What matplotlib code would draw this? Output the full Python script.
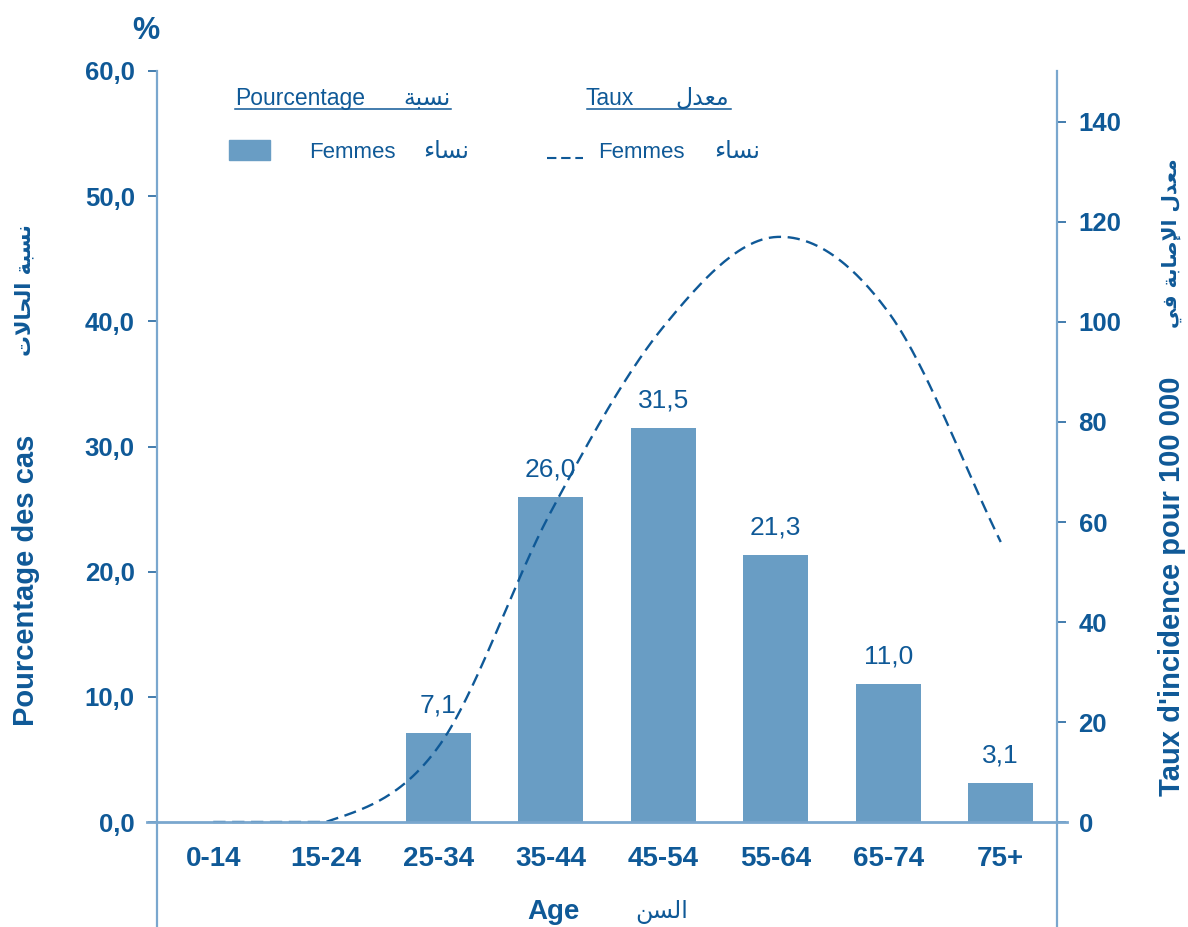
import numpy as np
import matplotlib
matplotlib.use('Agg')
import matplotlib.pyplot as plt
from matplotlib.patches import Rectangle
from matplotlib.lines import Line2D

plt.rcParams['font.family'] = ['Liberation Sans', 'DejaVu Sans']

# ---------------- data ----------------
categories = ['0-14', '15-24', '25-34', '35-44', '45-54', '55-64', '65-74', '75+']
pct_women = [0.0, 0.0, 7.1, 26.0, 31.5, 21.3, 11.0, 3.1]
rate_women = [0.0, 0.0, 15.0, 62.0, 99.0, 117.0, 102.0, 56.0]
pct_ticks = [0, 10, 20, 30, 40, 50, 60]
pct_tick_labels = ['0,0', '10,0', '20,0', '30,0', '40,0', '50,0', '60,0']
rate_ticks = [0, 20, 40, 60, 80, 100, 120, 140]
rate_tick_labels = ['0', '20', '40', '60', '80', '100', '120', '140']

# ---------------- colours ----------------
TXT = '#0F5997'
SPINE = '#7AA7CE'
BAR = '#699DC4'

# ---------------- simple Arabic shaping (presentation forms) ----------------
_FORMS = {
    'ا': ('\uFE8D', '\uFE8E', None, None),
    'إ': ('\uFE87', '\uFE88', None, None),
    'ب': ('\uFE8F', '\uFE90', '\uFE91', '\uFE92'),
    'ة': ('\uFE93', '\uFE94', None, None),
    'ت': ('\uFE95', '\uFE96', '\uFE97', '\uFE98'),
    'ح': ('\uFEA1', '\uFEA2', '\uFEA3', '\uFEA4'),
    'د': ('\uFEA9', '\uFEAA', None, None),
    'س': ('\uFEB1', '\uFEB2', '\uFEB3', '\uFEB4'),
    'ص': ('\uFEB9', '\uFEBA', '\uFEBB', '\uFEBC'),
    'ع': ('\uFEC9', '\uFECA', '\uFECB', '\uFECC'),
    'ف': ('\uFED1', '\uFED2', '\uFED3', '\uFED4'),
    'ل': ('\uFEDD', '\uFEDE', '\uFEDF', '\uFEE0'),
    'م': ('\uFEE1', '\uFEE2', '\uFEE3', '\uFEE4'),
    'ن': ('\uFEE5', '\uFEE6', '\uFEE7', '\uFEE8'),
    'ي': ('\uFEF1', '\uFEF2', '\uFEF3', '\uFEF4'),
    'ء': ('\uFE80', None, None, None),
}
_LAMALEF = {'ا': ('\uFEFB', '\uFEFC'), 'إ': ('\uFEF9', '\uFEFA')}


def shape_ar(text):
    units = []
    i = 0
    while i < len(text):
        c = text[i]
        if c == 'ل' and i + 1 < len(text) and text[i + 1] in _LAMALEF:
            units.append(('LA', text[i + 1]))
            i += 2
        else:
            units.append(('C', c))
            i += 1

    def joins_prev(u):
        if u[0] == 'LA':
            return True
        f = _FORMS.get(u[1])
        return f is not None and f[1] is not None

    def joins_next(u):
        if u[0] == 'LA':
            return False
        f = _FORMS.get(u[1])
        return f is not None and f[2] is not None

    out = []
    for k, u in enumerate(units):
        pc = k > 0 and joins_next(units[k - 1]) and joins_prev(u)
        nc = k + 1 < len(units) and joins_next(u) and joins_prev(units[k + 1])
        if u[0] == 'LA':
            out.append(_LAMALEF[u[1]][1 if pc else 0])
            continue
        f = _FORMS.get(u[1])
        if f is None:
            out.append(u[1])
            continue
        if pc and nc:
            g = f[3]
        elif pc:
            g = f[1]
        elif nc:
            g = f[2]
        else:
            g = f[0]
        out.append(g)
    return ''.join(reversed(out))


def smooth_curve(x, y, xs):
    """Catmull-Rom style cubic Hermite through the points, clipped at 0."""
    x = np.asarray(x, float)
    y = np.asarray(y, float)
    n = len(x)
    m = np.zeros(n)
    for k in range(1, n - 1):
        m[k] = (y[k + 1] - y[k - 1]) / (x[k + 1] - x[k - 1])
    m[0] = (y[1] - y[0]) / (x[1] - x[0])
    m[-1] = (y[-1] - y[-2]) / (x[-1] - x[-2])
    ys = np.empty_like(xs)
    for j, t in enumerate(xs):
        k = min(max(int(np.searchsorted(x, t) - 1), 0), n - 2)
        h = x[k + 1] - x[k]
        s = (t - x[k]) / h
        h00 = 2 * s**3 - 3 * s**2 + 1
        h10 = s**3 - 2 * s**2 + s
        h01 = -2 * s**3 + 3 * s**2
        h11 = s**3 - s**2
        ys[j] = h00 * y[k] + h10 * h * m[k] + h01 * y[k + 1] + h11 * h * m[k + 1]
    return np.maximum(ys, 0)


# ---------------- figure ----------------
W, H = 1188, 927
fig = plt.figure(figsize=(W / 100, H / 100), dpi=100)


def P(x, y):
    return (x / W, 1 - y / H)


ax = fig.add_axes([157 / W, 0, 900 / W, 856 / H])
ax2 = ax.twinx()

xpos = np.arange(len(categories))
ax.bar(xpos, pct_women, width=0.58, color=BAR, zorder=2)
ax.set_xlim(-0.5, 7.5)
ax.set_ylim(-105 / (751 / 60), 60)
ax2.set_ylim(-21, 150.2)

for sp in ['top', 'right', 'bottom']:
    ax.spines[sp].set_visible(False)
for sp in ['top', 'left', 'bottom']:
    ax2.spines[sp].set_visible(False)
ax.spines['left'].set_color(SPINE)
ax.spines['left'].set_linewidth(1.6)
ax2.spines['right'].set_color(SPINE)
ax2.spines['right'].set_linewidth(1.6)

ax.set_xticks([])
ax.set_yticks(pct_ticks)
ax.set_yticklabels(pct_tick_labels)
ax.tick_params(axis='y', direction='out', length=6.5, width=1.1, color=TXT,
               pad=9.5, labelsize=18.5, labelcolor=TXT)
for lb in ax.get_yticklabels():
    lb.set_fontweight('bold')

ax2.set_yticks(rate_ticks)
ax2.set_yticklabels(rate_tick_labels)
ax2.tick_params(axis='y', direction='out', length=6.5, width=1.1, color=TXT,
                pad=9, labelsize=18.5, labelcolor=TXT)
for lb in ax2.get_yticklabels():
    lb.set_fontweight('bold')

# x-axis baseline (drawn over the flat start of the curve)
ax2.axhline(0, xmin=-10 / 900, xmax=1 + 10 / 900, color=SPINE, lw=2.0,
            clip_on=False, zorder=5)

# category labels
for xi, cat in zip(xpos, categories):
    ax.text(xi, (927 - 859) / 856, cat, transform=ax.get_xaxis_transform(),
            ha='center', va='center', fontsize=20, fontweight='bold', color=TXT)

# bar value labels
for xi, v in zip(xpos, pct_women):
    if v > 0:
        ax.annotate(f'{v:.1f}'.replace('.', ','), (xi, v), xytext=(0, 19.8),
                    textcoords='offset points', ha='center', va='center',
                    fontsize=19, color=TXT, zorder=3)

# smoothed rate curve
xs = np.linspace(0, len(categories) - 1, 400)
ys = smooth_curve(xpos, rate_women, xs)
ax2.plot(xs, ys, color=TXT, lw=1.7, ls=(0, (5.2, 2.8)), zorder=4)

# ---------------- texts ----------------
fig.text(*P(146, 31), '%', ha='center', va='center', fontsize=22,
         fontweight='bold', color=TXT)

fig.text(*P(26, 580), 'Pourcentage des cas', rotation=90, ha='center',
         va='center', fontsize=21, fontweight='bold', color=TXT)
fig.text(*P(24, 290), shape_ar('نسبة الحالات'), rotation=90, ha='center',
         va='center', fontsize=15, fontweight='bold', color=TXT,
         family=['DejaVu Sans'])

fig.text(*P(1172, 586), "Taux d'incidence pour 100 000", rotation=90,
         ha='center', va='center', fontsize=21, fontweight='bold', color=TXT)
fig.text(*P(1172, 243), shape_ar('معدل الإصابة في'), rotation=90,
         ha='center', va='center', fontsize=14.5, fontweight='bold', color=TXT,
         family=['DejaVu Sans'])

fig.text(*P(553, 912), 'Age', ha='center', va='center', fontsize=20,
         fontweight='bold', color=TXT)
fig.text(*P(662, 912), shape_ar('السن'), ha='center', va='center',
         fontsize=17, color=TXT, family=['DejaVu Sans'])

# legend block
fig.text(*P(235, 105), 'Pourcentage', ha='left', va='baseline', fontsize=16.5,
         color=TXT)
fig.text(*P(451, 105), shape_ar('نسبة'), ha='right', va='baseline',
         fontsize=17, color=TXT, family=['DejaVu Sans'])
fig.add_artist(Line2D([235 / W, 451 / W], [1 - 109 / H, 1 - 109 / H],
                      color=TXT, lw=1.1))

fig.text(*P(585, 105), 'Taux', ha='left', va='baseline', fontsize=16.5,
         color=TXT)
fig.text(*P(729, 105), shape_ar('معدل'), ha='right', va='baseline',
         fontsize=17, color=TXT, family=['DejaVu Sans'])
fig.add_artist(Line2D([587 / W, 731 / W], [1 - 109 / H, 1 - 109 / H],
                      color=TXT, lw=1.1))

fig.add_artist(Rectangle((229 / W, 1 - 160 / H), 41 / W, 20 / H,
                         transform=fig.transFigure, color=BAR))
fig.text(*P(309, 158), 'Femmes', ha='left', va='baseline', fontsize=16,
         color=TXT)
fig.text(*P(469, 158), shape_ar('نساء'), ha='right', va='baseline',
         fontsize=17, color=TXT, family=['DejaVu Sans'])

fig.add_artist(Line2D([547 / W, 583 / W], [1 - 158 / H, 1 - 158 / H],
                      color=TXT, lw=1.5, ls=(0, (4.5, 2.3))))
fig.text(*P(598, 158), 'Femmes', ha='left', va='baseline', fontsize=16,
         color=TXT)
fig.text(*P(760, 158), shape_ar('نساء'), ha='right', va='baseline',
         fontsize=17, color=TXT, family=['DejaVu Sans'])

fig.savefig('out.png', dpi=100)
